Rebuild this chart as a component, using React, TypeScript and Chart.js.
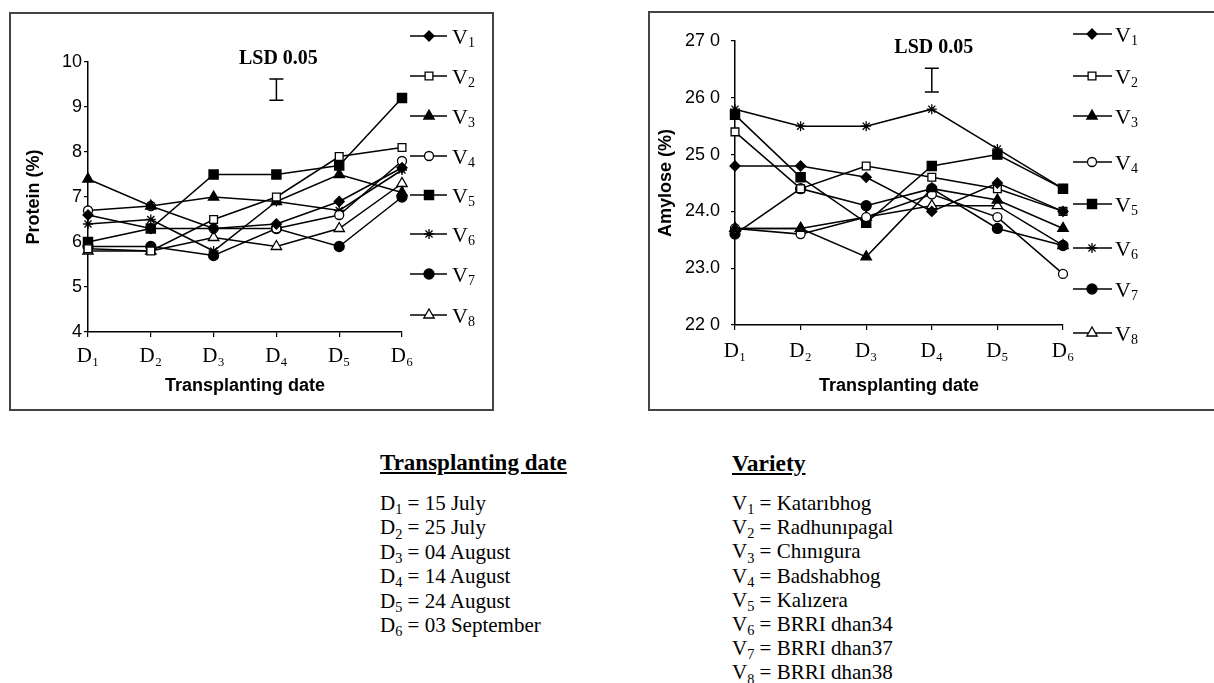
import React, { useEffect, useRef } from "react";
import { Chart, registerables } from "chart.js";

Chart.register(...registerables);

// ---------- DATA ----------
const dateCategories = ["D₁", "D₂", "D₃", "D₄", "D₅", "D₆"];
const varietyKeys = ["1", "2", "3", "4", "5", "6", "7", "8"];

const proteinV1 = [6.6, 6.3, 6.3, 6.4, 6.9, 7.65];
const proteinV2 = [5.85, 5.8, 6.5, 7.0, 7.9, 8.1];
const proteinV3 = [7.4, 6.8, 7.0, 6.9, 7.5, 7.1];
const proteinV4 = [6.7, 6.8, 6.3, 6.3, 6.6, 7.8];
const proteinV5 = [6.0, 6.3, 7.5, 7.5, 7.7, 9.2];
const proteinV6 = [6.4, 6.5, 5.8, 6.9, 6.7, 7.6];
const proteinV7 = [5.9, 5.9, 5.7, 6.3, 5.9, 7.0];
const proteinV8 = [5.8, 5.8, 6.1, 5.9, 6.3, 7.3];

const amyloseV1 = [24.8, 24.8, 24.6, 24.0, 24.5, 24.0];
const amyloseV2 = [25.4, 24.4, 24.8, 24.6, 24.4, 24.0];
const amyloseV3 = [23.7, 23.7, 23.2, 24.4, 24.2, 23.7];
const amyloseV4 = [23.7, 23.6, 23.9, 24.3, 23.9, 22.9];
const amyloseV5 = [25.7, 24.6, 23.8, 24.8, 25.0, 24.4];
const amyloseV6 = [25.8, 25.5, 25.5, 25.8, 25.1, 24.4];
const amyloseV7 = [23.6, 24.4, 24.1, 24.4, 23.7, 23.4];
const amyloseV8 = [23.7, 23.7, 23.9, 24.1, 24.1, 23.4];

const proteinTickLabels = ["4", "5", "6", "7", "8", "9", "10"];
const amyloseTickLabels = ["22 0", "23.0", "24.0", "25 0", "26 0", "27 0"];

const proteinLsd = [9.15, 9.62];
const amyloseLsd = [26.1, 26.52];

const dateMeanings = ["15 July", "25 July", "04 August", "14 August", "24 August", "03 September"];
const varietyNames = [
  "Katarıbhog",
  "Radhunıpagal",
  "Chınıgura",
  "Badshabhog",
  "Kalızera",
  "BRRI dhan34",
  "BRRI dhan37",
  "BRRI dhan38",
];

// ---------- STYLE ----------
const markerStyles = ["rectRot", "rect", "triangle", "circle", "rect", "star", "circle", "triangle"];
const markerFilled = [true, false, true, false, true, false, true, false];
const markerRadius = [5, 5.5, 6, 4.5, 6.5, 5, 5, 6];

function drawMarker(ctx: CanvasRenderingContext2D, style: string, filled: boolean, x: number, y: number, r: number) {
  ctx.save();
  ctx.beginPath();
  ctx.fillStyle = filled ? "#000" : "#fff";
  ctx.strokeStyle = "#000";
  ctx.lineWidth = 1.3;
  if (style === "circle") {
    ctx.arc(x, y, r, 0, Math.PI * 2);
  } else if (style === "rect") {
    const s = r * Math.SQRT1_2;
    ctx.rect(x - s, y - s, 2 * s, 2 * s);
  } else if (style === "rectRot") {
    ctx.moveTo(x, y - r);
    ctx.lineTo(x + r, y);
    ctx.lineTo(x, y + r);
    ctx.lineTo(x - r, y);
    ctx.closePath();
  } else if (style === "triangle") {
    ctx.moveTo(x, y - r);
    ctx.lineTo(x + r * 0.866, y + r * 0.5);
    ctx.lineTo(x - r * 0.866, y + r * 0.5);
    ctx.closePath();
  } else if (style === "star") {
    for (let k = 0; k < 4; k++) {
      const a = (k * Math.PI) / 4;
      ctx.moveTo(x - r * Math.cos(a), y - r * Math.sin(a));
      ctx.lineTo(x + r * Math.cos(a), y + r * Math.sin(a));
    }
    ctx.stroke();
    ctx.restore();
    return;
  }
  ctx.fill();
  ctx.stroke();
  ctx.restore();
}

type PanelCfg = {
  series: number[][];
  min: number;
  max: number;
  tickLabels: string[];
  yTitle: string;
  lsd: number[];
  width: number;
  height: number;
  padTop: number;
  padRight: number;
  yWidth: number;
  xHeight: number;
  yTitlePad: number;
  yTickPad: number;
  xTickPad: number;
  legendY: number[];
  legendX: number[]; // lineStart, lineEnd, marker, text
};

function Panel({ cfg, style }: { cfg: PanelCfg; style: React.CSSProperties }) {
  const ref = useRef<HTMLCanvasElement | null>(null);
  useEffect(() => {
    if (!ref.current) return;
    const overlay = {
      id: "overlay",
      afterDraw(chart: any) {
        const ctx: CanvasRenderingContext2D = chart.ctx;
        const xs = chart.scales.x;
        const ys = chart.scales.y;
        const px = xs.getPixelForValue(3);
        const yb = ys.getPixelForValue(cfg.lsd[0]);
        const yt = ys.getPixelForValue(cfg.lsd[1]);
        ctx.save();
        ctx.strokeStyle = "#000";
        ctx.lineWidth = 1.5;
        ctx.beginPath();
        ctx.moveTo(px, yb);
        ctx.lineTo(px, yt);
        ctx.moveTo(px - 7, yb);
        ctx.lineTo(px + 7, yb);
        ctx.moveTo(px - 7, yt);
        ctx.lineTo(px + 7, yt);
        ctx.stroke();
        ctx.fillStyle = "#000";
        ctx.font = 'bold 20px "Liberation Serif"';
        ctx.textAlign = "center";
        ctx.textBaseline = "middle";
        ctx.fillText("LSD 0.05", px + 2, yt - 20);

        // legend
        const [l0, l1, mx, tx] = cfg.legendX;
        cfg.legendY.forEach((ly, i) => {
          ctx.beginPath();
          ctx.lineWidth = 1.5;
          ctx.moveTo(l0, ly);
          ctx.lineTo(l1, ly);
          ctx.stroke();
          drawMarker(ctx, markerStyles[i], markerFilled[i], mx, ly, markerRadius[i]);
          ctx.fillStyle = "#000";
          ctx.textAlign = "left";
          ctx.textBaseline = "alphabetic";
          ctx.font = '22px "Liberation Serif"';
          ctx.fillText("V", tx, ly + 8);
          const w = ctx.measureText("V").width;
          ctx.font = '14px "Liberation Serif"';
          ctx.fillText(varietyKeys[i], tx + w, ly + 11);
        });
        ctx.restore();
      },
    };

    const chart = new Chart(ref.current, {
      type: "line",
      data: {
        labels: dateCategories,
        datasets: cfg.series.map((s, i) => ({
          label: "V" + varietyKeys[i],
          data: s,
          borderColor: "#000",
          borderWidth: 1.5,
          pointStyle: markerStyles[i] as any,
          pointRadius: markerRadius[i],
          pointBackgroundColor: markerFilled[i] ? "#000" : "#fff",
          pointBorderColor: "#000",
          pointBorderWidth: 1.3,
          tension: 0,
          fill: false,
        })),
      },
      options: {
        animation: false,
        responsive: false,
        maintainAspectRatio: false,
        layout: { padding: { top: cfg.padTop, right: cfg.padRight, left: 0, bottom: 0 } },
        plugins: { legend: { display: false }, tooltip: { enabled: false } },
        scales: {
          x: {
            type: "category",
            offset: false,
            afterFit: (s: any) => {
              s.height = cfg.xHeight;
            },
            grid: { display: true, drawOnChartArea: false, drawTicks: true, tickLength: 5, color: "#000", lineWidth: 1.2 },
            border: { display: true, color: "#000", width: 1.5 },
            ticks: {
              color: "#000",
              padding: cfg.xTickPad,
              maxRotation: 0,
              font: { family: "Liberation Serif", size: 21 },
            },
            title: {
              display: true,
              text: "Transplanting date",
              color: "#000",
              font: { family: "Liberation Sans", size: 18, weight: "bold" },
              padding: { top: 0, bottom: 12 },
            },
          },
          y: {
            min: cfg.min,
            max: cfg.max,
            afterFit: (s: any) => {
              s.width = cfg.yWidth;
            },
            grid: { display: true, drawOnChartArea: false, drawTicks: true, tickLength: 4, color: "#000", lineWidth: 1.2 },
            border: { display: true, color: "#000", width: 1.5 },
            ticks: {
              stepSize: 1,
              color: "#000",
              padding: cfg.yTickPad,
              font: { family: "Liberation Sans", size: 18 },
              callback: (v: any) => cfg.tickLabels[Math.round(Number(v) - cfg.min)] ?? "",
            },
            title: {
              display: true,
              text: cfg.yTitle,
              color: "#000",
              font: { family: "Liberation Sans", size: 18, weight: "bold" },
              padding: { top: cfg.yTitlePad, bottom: 0 },
            },
          },
        },
      },
      plugins: [overlay],
    });
    return () => chart.destroy();
  }, []);
  return <canvas ref={ref} width={cfg.width} height={cfg.height} style={{ display: "block", position: "absolute", ...style }} />;
}

const proteinCfg: PanelCfg = {
  series: [proteinV1, proteinV2, proteinV3, proteinV4, proteinV5, proteinV6, proteinV7, proteinV8],
  min: 4,
  max: 10,
  tickLabels: proteinTickLabels,
  yTitle: "Protein (%)",
  lsd: proteinLsd,
  width: 481,
  height: 395,
  padTop: 48,
  padRight: 90,
  yWidth: 77,
  xHeight: 77,
  yTitlePad: 12,
  yTickPad: 2,
  xTickPad: 7,
  legendY: [22, 62, 102, 142, 181, 220, 260, 301],
  legendX: [399, 436, 418, 441],
};

const amyloseCfg: PanelCfg = {
  series: [amyloseV1, amyloseV2, amyloseV3, amyloseV4, amyloseV5, amyloseV6, amyloseV7, amyloseV8],
  min: 22,
  max: 27,
  tickLabels: amyloseTickLabels,
  yTitle: "Amylose (%)",
  lsd: amyloseLsd,
  width: 564,
  height: 396,
  padTop: 28,
  padRight: 151,
  yWidth: 85,
  xHeight: 84,
  yTitlePad: 5,
  yTickPad: 11,
  xTickPad: 9,
  legendY: [21, 63, 103, 149, 191, 235, 276, 320],
  legendX: [423, 462, 442, 465],
};

const serif = '"Liberation Serif", "Times New Roman", serif';

function Sub({ children }: { children: React.ReactNode }) {
  return <span style={{ fontSize: "0.68em", position: "relative", top: "0.3em", lineHeight: 0 }}>{children}</span>;
}

export default function App() {
  return (
    <div
      style={{
        position: "fixed",
        left: 0,
        top: 0,
        width: 1214,
        height: 683,
        overflow: "hidden",
        background: "#fff",
        fontFamily: serif,
        color: "#000",
      }}
    >
      <div style={{ position: "absolute", left: 9, top: 12, width: 481, height: 395, border: "2px solid #444" }} />
      <Panel cfg={proteinCfg} style={{ left: 11, top: 14 }} />
      <div style={{ position: "absolute", left: 648, top: 11, width: 600, height: 396, border: "2px solid #444" }} />
      <Panel cfg={amyloseCfg} style={{ left: 650, top: 13 }} />

      <div style={{ position: "absolute", left: 380, top: 450, fontSize: 23, fontWeight: "bold", textDecoration: "underline", lineHeight: "26px", whiteSpace: "nowrap" }}>
        Transplanting date
      </div>
      <div style={{ position: "absolute", left: 380, top: 491, fontSize: 21, lineHeight: "24.4px", whiteSpace: "nowrap" }}>
        {dateMeanings.map((d, i) => (
          <div key={i} style={{ height: 24.4 }}>
            D<Sub>{i + 1}</Sub> = {d}
          </div>
        ))}
      </div>

      <div style={{ position: "absolute", left: 732, top: 450, fontSize: 23.5, fontWeight: "bold", textDecoration: "underline", lineHeight: "26px", whiteSpace: "nowrap" }}>
        Variety
      </div>
      <div style={{ position: "absolute", left: 732, top: 491, fontSize: 21, lineHeight: "24.2px", whiteSpace: "nowrap" }}>
        {varietyNames.map((d, i) => (
          <div key={i} style={{ height: 24.2 }}>
            V<Sub>{varietyKeys[i]}</Sub> = {d}
          </div>
        ))}
      </div>
    </div>
  );
}
